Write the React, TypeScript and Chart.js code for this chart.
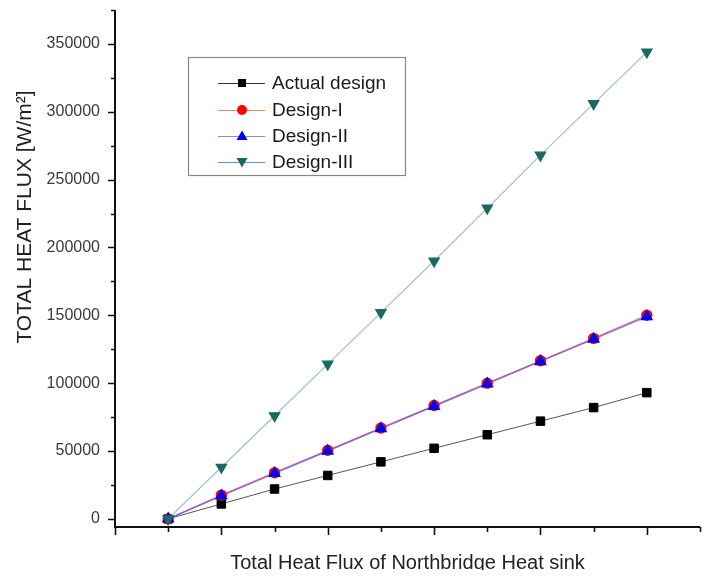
import React, { useEffect, useRef } from 'react';
import { Chart, registerables } from 'chart.js';

Chart.register(...registerables);

// ---- data ----
const xValues = [0, 1, 2, 3, 4, 5, 6, 7, 8, 9];
const actualDesign = [0, 11000, 22000, 32000, 42000, 52000, 62000, 72000, 82000, 93000];
const designI = [0, 17500, 34000, 50500, 67000, 83500, 100000, 116500, 133000, 150000];
const designII = [0, 17000, 33500, 50000, 66500, 83000, 99500, 116000, 132500, 149000];
const designIII = [0, 38000, 76000, 114000, 152000, 190000, 229000, 268000, 306000, 344000];
const seriesLabels = ['Actual design', 'Design-I', 'Design-II', 'Design-III'];
const yTickValues = [0, 50000, 100000, 150000, 200000, 250000, 300000, 350000];
const yMinorTickValues = [25000, 75000, 125000, 175000, 225000, 275000, 325000, 375000];
const xMajorTickValues = [-1, 1, 3, 5, 7, 9];
const xMinorTickValues = [0, 2, 4, 6, 8, 10];
const xTitle = 'Total Heat Flux of Northbridge Heat sink';
const yTitle = 'TOTAL HEAT FLUX [W/m\u00B2]';

const FONT = '"Liberation Sans", Arial, sans-serif';

const toPoints = (ys: number[]) => ys.map((y, i) => ({ x: xValues[i], y }));

type LegendItem = {
  label: string;
  line: string;
  marker: string;
  shape: 'rect' | 'circle' | 'tri' | 'triDown';
};

const legendItems: LegendItem[] = [
  { label: seriesLabels[0], line: '#333333', marker: '#000000', shape: 'rect' },
  { label: seriesLabels[1], line: '#f08a60', marker: '#ff0000', shape: 'circle' },
  { label: seriesLabels[2], line: '#8a8ae8', marker: '#0000ee', shape: 'tri' },
  { label: seriesLabels[3], line: '#6f8fc0', marker: '#1a6a60', shape: 'triDown' },
];

function drawShape(ctx: CanvasRenderingContext2D, shape: string, x: number, y: number, color: string) {
  ctx.save();
  ctx.fillStyle = color;
  ctx.beginPath();
  if (shape === 'rect') {
    ctx.rect(x - 4, y - 4, 8, 8);
  } else if (shape === 'circle') {
    ctx.arc(x, y, 5, 0, Math.PI * 2);
  } else if (shape === 'tri') {
    ctx.moveTo(x, y - 5.5);
    ctx.lineTo(x + 5.5, y + 4);
    ctx.lineTo(x - 5.5, y + 4);
    ctx.closePath();
  } else {
    ctx.moveTo(x, y + 5.5);
    ctx.lineTo(x + 5.5, y - 4);
    ctx.lineTo(x - 5.5, y - 4);
    ctx.closePath();
  }
  ctx.fill();
  ctx.restore();
}

const zeroPad = (s: any) => {
  s.paddingTop = 0;
  s.paddingBottom = 0;
  s.paddingLeft = 0;
  s.paddingRight = 0;
};

const decorPlugin = {
  id: 'decor',
  beforeDatasetsDraw(chart: any) {
    const ctx: CanvasRenderingContext2D = chart.ctx;
    const xs = chart.scales.x;
    const ys = chart.scales.y;
    const { left, right, top, bottom } = chart.chartArea;
    ctx.save();
    ctx.strokeStyle = '#111';
    ctx.lineWidth = 2;
    // axis lines
    ctx.beginPath();
    ctx.moveTo(left, top);
    ctx.lineTo(left, bottom + 1);
    ctx.moveTo(left - 1, bottom);
    ctx.lineTo(right, bottom);
    ctx.stroke();
    // ticks
    ctx.lineWidth = 1.6;
    ctx.beginPath();
    yTickValues.forEach((v) => {
      const py = Math.round(ys.getPixelForValue(v)) + 0.5;
      ctx.moveTo(left, py);
      ctx.lineTo(left - 7, py);
    });
    yMinorTickValues.forEach((v) => {
      const py = Math.round(ys.getPixelForValue(v)) + 0.5;
      ctx.moveTo(left, py);
      ctx.lineTo(left - 4, py);
    });
    xMajorTickValues.forEach((v) => {
      const px = Math.round(xs.getPixelForValue(v)) + 0.5;
      ctx.moveTo(px, bottom);
      ctx.lineTo(px, bottom + 8);
    });
    xMinorTickValues.forEach((v) => {
      const px = Math.round(xs.getPixelForValue(v)) + 0.5;
      ctx.moveTo(px, bottom);
      ctx.lineTo(px, bottom + 5);
    });
    ctx.stroke();
    ctx.restore();
  },
  afterDraw(chart: any) {
    const ctx: CanvasRenderingContext2D = chart.ctx;
    const { left, right, top } = chart.chartArea;
    ctx.save();
    // legend box
    const bx = left + 73;
    const by = top + 47;
    ctx.strokeStyle = '#888';
    ctx.lineWidth = 1.2;
    ctx.strokeRect(bx + 0.5, by + 0.5, 217, 118);
    ctx.font = `19px ${FONT}`;
    ctx.textBaseline = 'middle';
    ctx.textAlign = 'left';
    const rowY = [26, 53, 79, 105];
    legendItems.forEach((it, i) => {
      const y = by + rowY[i];
      ctx.strokeStyle = it.line;
      ctx.lineWidth = 1;
      ctx.beginPath();
      ctx.moveTo(bx + 30, y + 0.5);
      ctx.lineTo(bx + 77, y + 0.5);
      ctx.stroke();
      drawShape(ctx, it.shape, bx + 54, y, it.marker);
      ctx.fillStyle = '#1a1a1a';
      ctx.fillText(it.label, bx + 84, y + 1);
    });
    // x title
    ctx.fillStyle = '#222';
    ctx.font = `20px ${FONT}`;
    ctx.textAlign = 'center';
    ctx.textBaseline = 'middle';
    ctx.fillText(xTitle, (left + right) / 2, 555);
    // y title
    ctx.translate(17, 209);
    ctx.rotate(-Math.PI / 2);
    ctx.font = `21px ${FONT}`;
    ctx.fillText(yTitle, 0, 0);
    ctx.restore();
  },
};

export default function App() {
  const ref = useRef<HTMLCanvasElement>(null);
  useEffect(() => {
    if (!ref.current) return;
    const chart = new Chart(ref.current, {
      type: 'line',
      data: {
        datasets: [
          {
            label: seriesLabels[3],
            data: toPoints(designIII),
            borderColor: '#9cc2c4',
            borderWidth: 1.2,
            backgroundColor: '#1a6a60',
            pointBackgroundColor: '#1a6a60',
            pointBorderColor: '#1a6a60',
            pointStyle: 'triangle',
            rotation: 180,
            pointRadius: 6,
            order: 0,
          },
          {
            label: seriesLabels[2],
            data: toPoints(designII),
            borderColor: 'rgba(60,60,230,0.6)',
            borderWidth: 1.4,
            backgroundColor: '#0000ee',
            pointBackgroundColor: '#0000ee',
            pointBorderColor: '#0000ee',
            pointStyle: 'triangle',
            pointRadius: 6,
            order: 1,
          },
          {
            label: seriesLabels[1],
            data: toPoints(designI),
            borderColor: 'rgba(230,60,90,0.7)',
            borderWidth: 1.4,
            backgroundColor: '#ff0000',
            pointBackgroundColor: '#ff0000',
            pointBorderColor: '#ff0000',
            pointStyle: 'circle',
            pointRadius: 5,
            order: 2,
          },
          {
            label: seriesLabels[0],
            data: toPoints(actualDesign),
            borderColor: '#555555',
            borderWidth: 1,
            backgroundColor: '#000000',
            pointBackgroundColor: '#000000',
            pointBorderColor: '#000000',
            pointStyle: 'rect',
            pointRadius: 6,
            order: 3,
          },
        ],
      },
      options: {
        responsive: false,
        animation: false,
        events: [],
        layout: { autoPadding: false, padding: { top: 2, right: 2, left: 0, bottom: 0 } },
        plugins: {
          legend: { display: false },
          tooltip: { enabled: false },
          title: { display: false },
        },
        scales: {
          x: {
            type: 'linear',
            min: -1,
            max: 10,
            ticks: { display: false, padding: 0 },
            grid: { display: false, drawTicks: false },
            border: { display: false },
            afterFit: (s: any) => {
              s.height = 51;
              zeroPad(s);
            },
          },
          y: {
            type: 'linear',
            min: -6000,
            max: 375000,
            afterBuildTicks: (s: any) => {
              s.ticks = yTickValues.map((v) => ({ value: v }));
            },
            ticks: {
              callback: (v: any) => String(v),
              font: { family: FONT, size: 16 },
              color: '#3a3a3a',
              padding: 15,
              autoSkip: false,
            },
            grid: { display: false, drawTicks: false },
            border: { display: false },
            afterFit: (s: any) => {
              s.width = 107;
              zeroPad(s);
            },
          },
        },
      },
      plugins: [decorPlugin],
    } as any);
    return () => chart.destroy();
  }, []);
  return (
    <canvas
      ref={ref}
      width={694}
      height={570}
      style={{ display: 'block', width: 694, height: 570, marginBottom: -8 }}
    />
  );
}
